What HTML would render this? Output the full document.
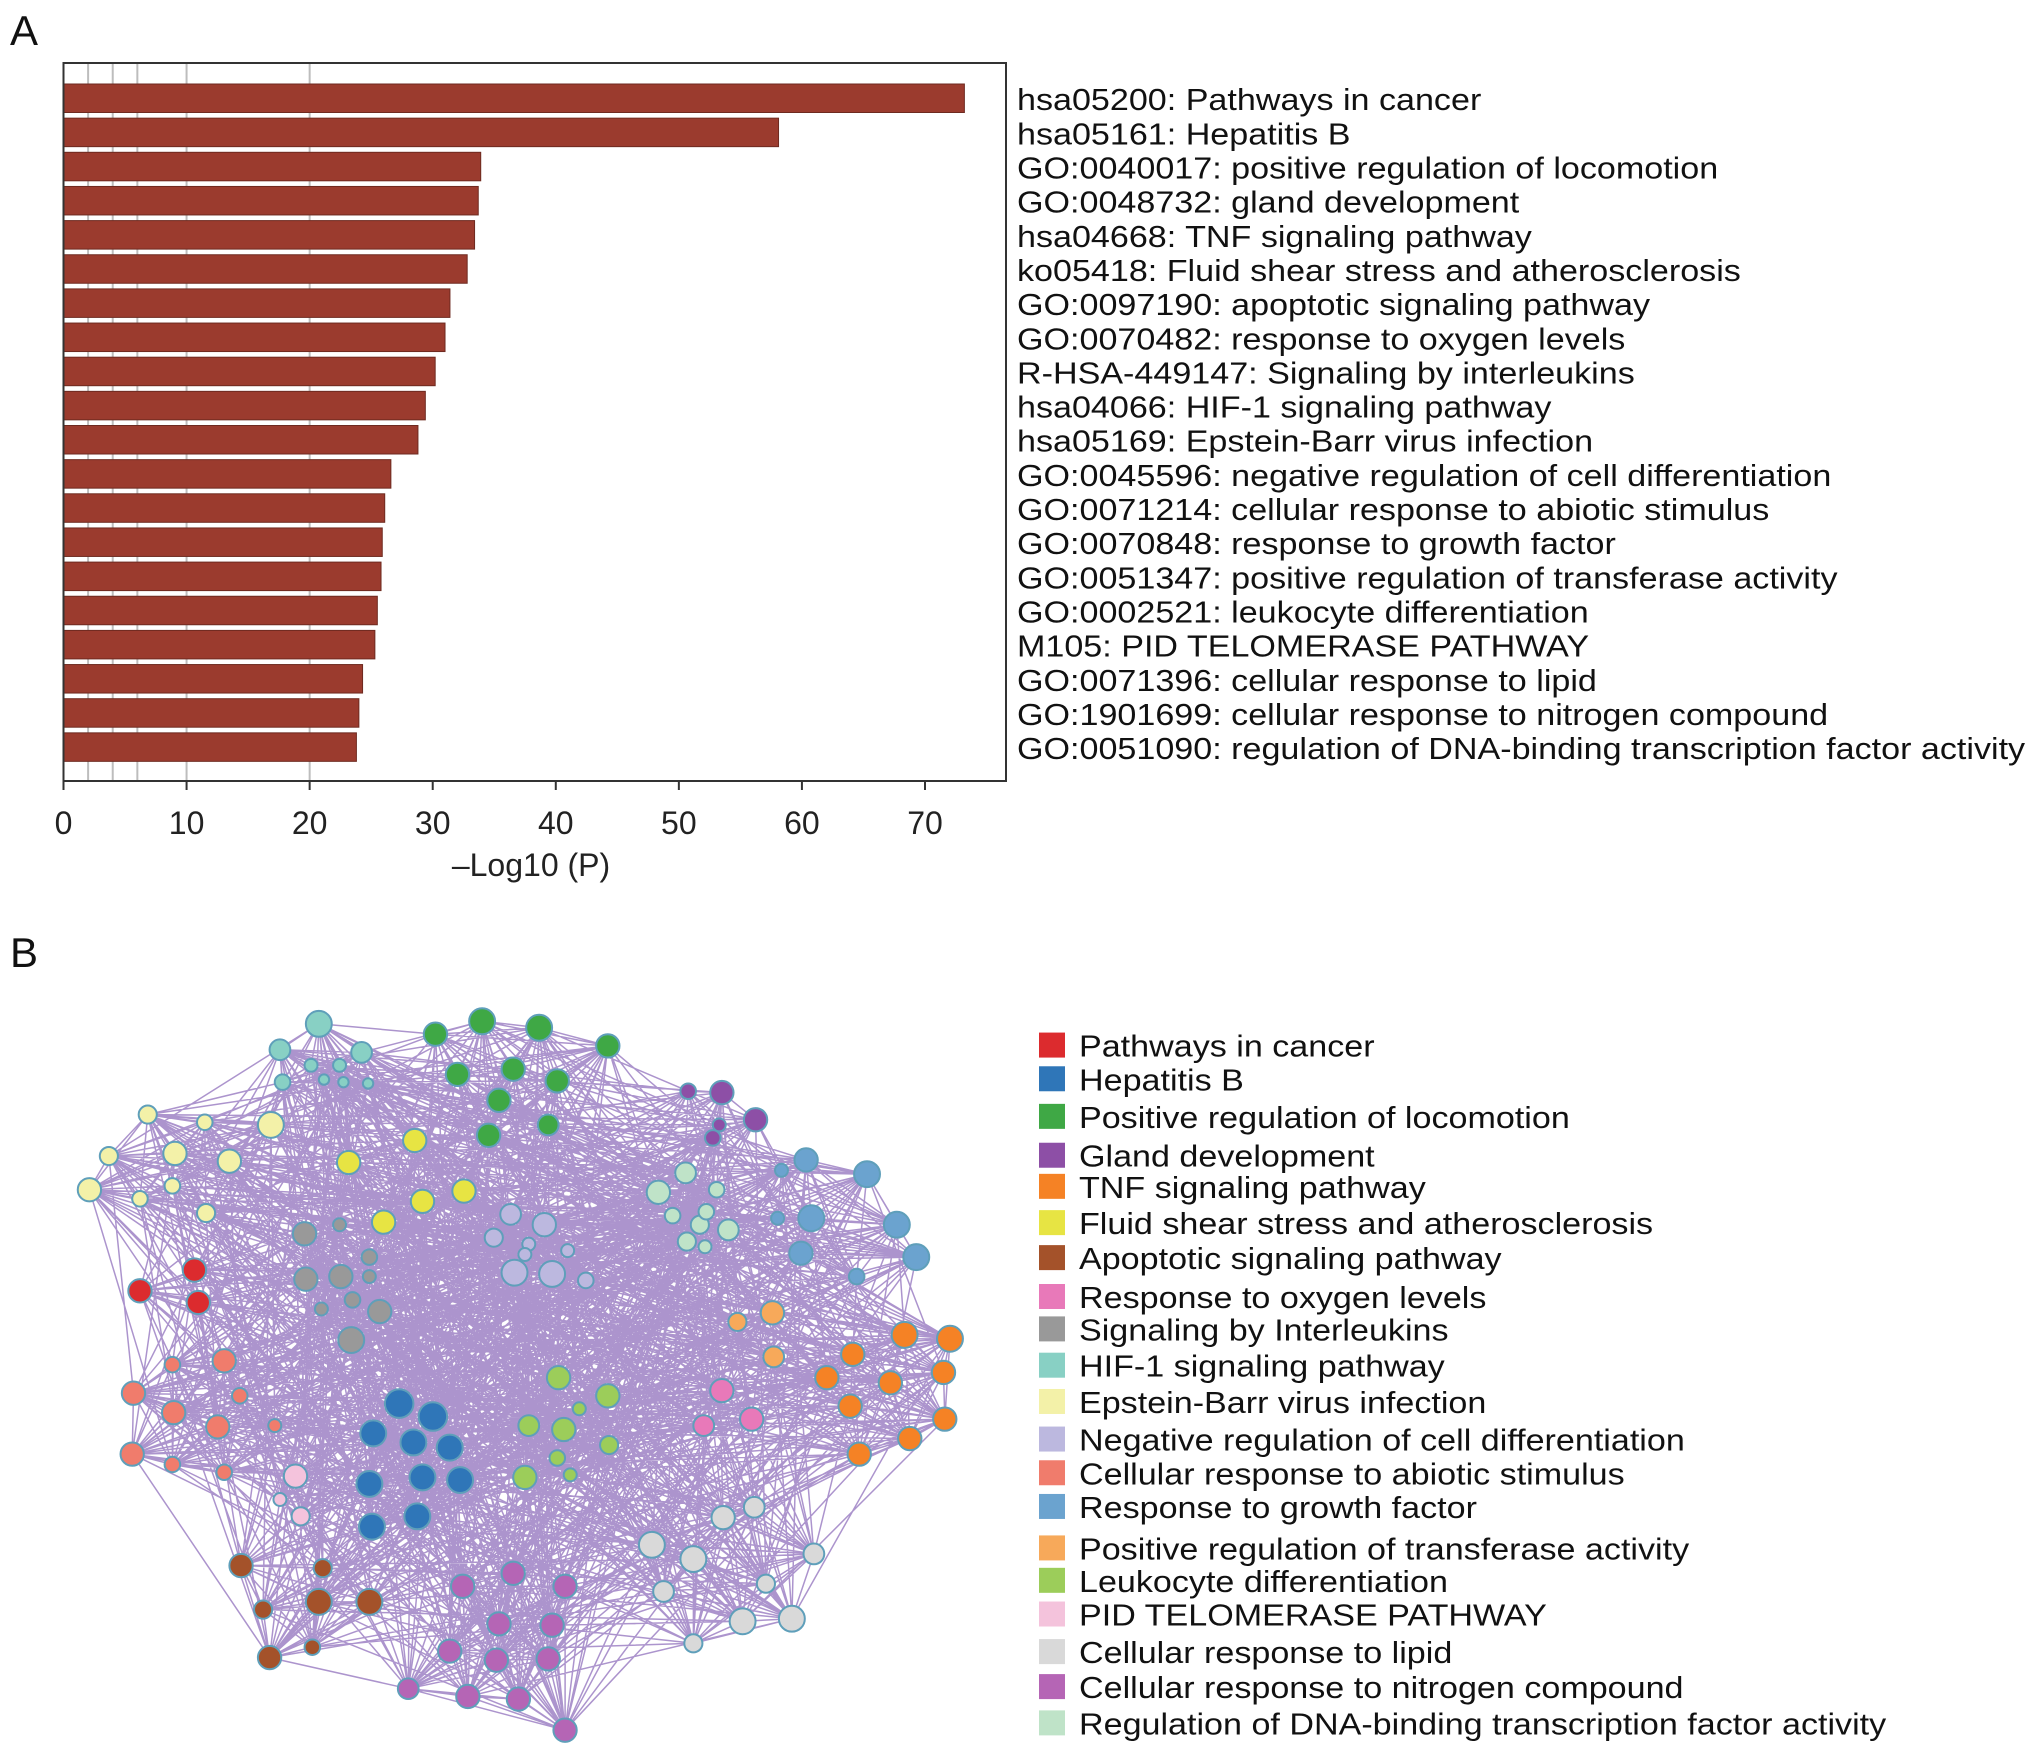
<!DOCTYPE html>
<html><head><meta charset="utf-8"><style>
html,body{margin:0;padding:0;background:#fff;}
svg{display:block;font-family:"Liberation Sans",Arial,sans-serif;}
</style></head><body>
<svg id="fig" width="2032" height="1756" viewBox="0 0 2032 1756" xmlns="http://www.w3.org/2000/svg">
<text x="10" y="45" font-size="42" fill="#111">A</text>
<text x="10" y="967" font-size="42" fill="#111">B</text>
<g id="chartA"></g>
<g id="net"></g>
<g id="legend"></g>
</svg>
<script>
const NS="http://www.w3.org/2000/svg";
const terms=["hsa05200: Pathways in cancer","hsa05161: Hepatitis B","GO:0040017: positive regulation of locomotion","GO:0048732: gland development","hsa04668: TNF signaling pathway","ko05418: Fluid shear stress and atherosclerosis","GO:0097190: apoptotic signaling pathway","GO:0070482: response to oxygen levels","R-HSA-449147: Signaling by interleukins","hsa04066: HIF-1 signaling pathway","hsa05169: Epstein-Barr virus infection","GO:0045596: negative regulation of cell differentiation","GO:0071214: cellular response to abiotic stimulus","GO:0070848: response to growth factor","GO:0051347: positive regulation of transferase activity","GO:0002521: leukocyte differentiation","M105: PID TELOMERASE PATHWAY","GO:0071396: cellular response to lipid","GO:1901699: cellular response to nitrogen compound","GO:0051090: regulation of DNA-binding transcription factor activity"];
const logP=[73.2,58.1,33.9,33.7,33.4,32.8,31.4,31.0,30.2,29.4,28.8,26.6,26.1,25.9,25.8,25.5,25.3,24.3,24.0,23.8];
const xTicks=[0,10,20,30,40,50,60,70];
const gridVals=[2,4,6,10,20];
const legendNames=["Pathways in cancer","Hepatitis B","Positive regulation of locomotion","Gland development","TNF signaling pathway","Fluid shear stress and atherosclerosis","Apoptotic signaling pathway","Response to oxygen levels","Signaling by Interleukins","HIF-1 signaling pathway","Epstein-Barr virus infection","Negative regulation of cell differentiation","Cellular response to abiotic stimulus","Response to growth factor","Positive regulation of transferase activity","Leukocyte differentiation","PID TELOMERASE PATHWAY","Cellular response to lipid","Cellular response to nitrogen compound","Regulation of DNA-binding transcription factor activity"];
const legendColors=["#dc2b2e","#2f76b8","#3fa845","#8d4fa6","#f58225","#e7e443","#a4522a","#e879b9","#999999","#88d0c4","#f3f1a8","#bcb8df","#f07c6c","#6ba3cf","#f7a95a","#9ccd5a","#f4c3dc","#d9d9d9","#b565b5","#bfe3c8"];

function el(tag,attrs,parent){const e=document.createElementNS(NS,tag);for(const k in attrs)e.setAttribute(k,attrs[k]);parent.appendChild(e);return e;}

const A=document.getElementById('chartA');
const x0=63.5,x1=1006,yTop=63,yBot=781;
const xs=v=>x0+v*(925-63.5)/70;
const barTop=84,pitch=34.15,barH=28.5;
for(const g of gridVals){
  const l=el('line',{x1:xs(g),x2:xs(g),y1:yTop,y2:yBot,stroke:'#bdbdbd','stroke-width':2},A);
  
  
}
logP.forEach((v,i)=>{
  const y=barTop+i*pitch;
  const r=el('rect',{x:x0,y:y,width:xs(v)-x0,height:barH,fill:'#9b3b2e',stroke:'#6e2a20','stroke-width':1},A);
  
  
  const t=el('text',{x:1017,y:y+barH/2+12,'font-size':31,fill:'#111'},A);
  t.textContent=terms[i];
  
  
  t.setAttribute('transform','translate(1017 0) scale(1.1 1) translate(-1017 0)');
});
const box=el('rect',{x:x0,y:yTop,width:x1-x0,height:yBot-yTop,fill:'none',stroke:'#333','stroke-width':2},A);


for(const t of xTicks){
  const l=el('line',{x1:xs(t),x2:xs(t),y1:yBot,y2:yBot+9,stroke:'#333','stroke-width':2},A);
  
  
  const tx=el('text',{x:xs(t),y:834,'font-size':32,'text-anchor':'middle',fill:'#222'},A);
  tx.textContent=t;
  
  
}
const xt=el('text',{x:531,y:876,'font-size':32,'text-anchor':'middle',fill:'#222'},A);
xt.textContent='\u2013Log10 (P)';



const S=1.296;
const clusters=[
 [9,[[246,790,10],[216,810,8],[279,812,8],[218,835,6],[240,822,5],[262,822,5],[250,833,4],[265,835,4],[284,836,4]]],
 [2,[[336,798,9],[372,788,10],[416,793,10],[469,807,9],[353,829,9],[396,825,9],[430,834,9],[385,849,9],[423,868,8],[377,876,9]]],
 [3,[[531,842,6],[557,843,9],[583,864,9],[550,878,6],[555,868,5]]],
 [10,[[114,860,7],[158,866,6],[209,868,10],[84,892,7],[135,890,9],[177,896,9],[69,918,9],[108,925,6],[133,915,6],[159,936,7]]],
 [5,[[320,880,9],[269,897,9],[326,927,9],[358,919,9],[296,943,9]]],
 [19,[[508,920,9],[529,905,8],[553,918,6],[519,938,6],[540,945,7],[562,949,8],[530,958,7],[544,962,5],[545,935,6]]],
 [13,[[622,895,9],[669,906,10],[603,903,5],[626,940,10],[692,945,10],[707,970,10],[618,967,9],[600,940,5],[661,985,6]]],
 [8,[[235,952,9],[262,945,5],[285,970,6],[236,987,9],[263,985,9],[293,1012,9],[271,1034,10],[248,1010,5],[272,1003,6],[285,985,5]]],
 [11,[[394,937,8],[420,945,9],[381,955,7],[426,983,10],[397,982,10],[452,988,6],[408,960,5],[438,965,5],[405,968,5]]],
 [0,[[150,980,9],[108,996,9],[153,1005,9]]],
 [12,[[173,1050,9],[133,1053,6],[103,1075,9],[185,1077,6],[134,1090,9],[168,1101,9],[212,1100,5],[102,1122,9],[133,1130,6],[173,1136,6]]],
 [4,[[698,1030,10],[733,1033,10],[658,1045,9],[728,1059,9],[638,1063,9],[687,1067,9],[656,1085,9],[702,1110,9],[729,1095,9],[663,1122,9]]],
 [14,[[596,1013,9],[569,1020,7],[597,1047,8]]],
 [15,[[431,1063,9],[469,1077,9],[408,1100,8],[435,1103,9],[470,1115,7],[405,1140,9],[430,1125,6],[447,1087,5],[440,1138,5]]],
 [7,[[557,1073,9],[543,1100,8],[580,1095,9]]],
 [1,[[308,1083,11],[334,1093,11],[288,1106,10],[319,1113,10],[347,1117,10],[285,1145,10],[326,1140,10],[355,1142,10],[287,1178,10],[322,1170,10]]],
 [16,[[228,1139,9],[216,1157,5],[232,1170,7]]],
 [17,[[582,1163,8],[558,1171,9],[503,1192,10],[535,1203,10],[512,1228,8],[591,1222,7],[628,1199,8],[573,1251,10],[611,1249,10],[535,1268,7]]],
 [6,[[186,1208,9],[249,1210,7],[203,1242,7],[246,1236,10],[285,1236,10],[208,1279,9],[241,1271,6]]],
 [18,[[357,1224,9],[396,1214,9],[436,1224,9],[385,1253,9],[426,1254,9],[347,1274,9],[383,1281,9],[423,1280,9],[315,1303,8],[361,1309,9],[400,1311,9],[436,1335,9]]]
];
const nodes=[];
clusters.forEach(([c,list],ci)=>list.forEach(p=>nodes.push({x:p[0]*S,y:p[1]*S,r:p[2]*S,c:c,ci:ci})));
const N=document.getElementById('net');
const eg=el('g',{stroke:'#5a2a9c','stroke-width':1.5,'stroke-opacity':0.5},N);


let d='';
for(let i=0;i<nodes.length;i++)for(let j=i+1;j<nodes.length;j++){
  const a=nodes[i],b=nodes[j];
  const same=a.ci===b.ci;
  if(same || ((i*7+j*13)%9===0)){d+='M'+a.x.toFixed(1)+' '+a.y.toFixed(1)+'L'+b.x.toFixed(1)+' '+b.y.toFixed(1);}
}
const ep=el('path',{d:d,fill:'none'},eg);


nodes.forEach(n=>{
  const c=el('circle',{cx:n.x,cy:n.y,r:n.r,fill:legendColors[n.c],stroke:'#5f9fba','stroke-width':2},N);
  
  
});

const L=document.getElementById('legend');
const ly=[806,832,861,891,915,943,970,1000,1025,1053,1081,1110,1136,1162,1194,1219,1245,1274,1301,1329];
legendNames.forEach((nm,i)=>{
  const y=ly[i]*S;
  const r=el('rect',{x:1039,y:y-12,width:26,height:25,fill:legendColors[i]},L);
  
  
  const t=el('text',{x:1079,y:y+12,'font-size':31,fill:'#111'},L);
  t.textContent=nm;
  
  
  t.setAttribute('transform','translate(1079 0) scale(1.1 1) translate(-1079 0)');
});
</script>
</body></html>
